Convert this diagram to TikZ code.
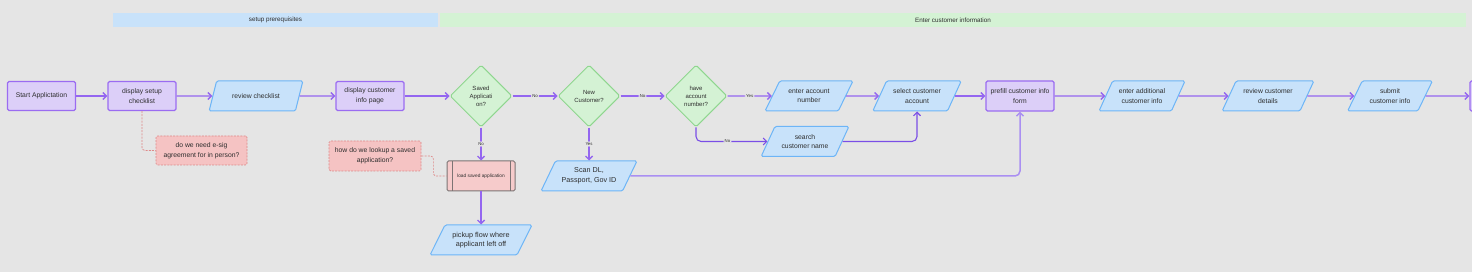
\documentclass[tikz,border=0pt]{standalone}
\usepackage{fontspec}
\setmainfont{Liberation Sans}
\usetikzlibrary{arrows.meta,shapes.geometric}

\definecolor{bg}{HTML}{E5E5E5}
\definecolor{ink}{HTML}{2E2E2E}
\definecolor{procfill}{HTML}{DCCFF8}
\definecolor{procline}{HTML}{9B6CF1}
\definecolor{iofill}{HTML}{C8E2FA}
\definecolor{ioline}{HTML}{6DB5F7}
\definecolor{decfill}{HTML}{D4F2D4}
\definecolor{decline}{HTML}{8FD68F}
\definecolor{notefill}{HTML}{F5C3C3}
\definecolor{noteline}{HTML}{DE8A8A}
\definecolor{loadfill}{HTML}{F6CBCB}
\definecolor{loadline}{HTML}{7C7474}
\definecolor{flowline}{HTML}{9466F0}
\definecolor{darkflow}{HTML}{7A4EE6}
\definecolor{lightflow}{HTML}{AA8FF2}

\begin{document}
\begin{tikzpicture}[x=1pt,y=-1pt,
    font=\fontsize{6.8}{9.6}\selectfont,text=ink,
    >={Straight Barb[length=3.5pt,width=7pt]},
    proc/.style={draw=procline,fill=procfill,line width=1.1pt,rounded corners=1.5pt,
      minimum width=68pt,minimum height=29pt,align=center,inner sep=2pt},
    io/.style={trapezium,trapezium left angle=56,trapezium right angle=124,
      trapezium stretches=true,draw=ioline,fill=iofill,line width=1pt,
      rounded corners=1.5pt,minimum width=#1,minimum height=30pt,align=center,inner sep=1pt},
    io/.default=90pt,
    decision/.style={diamond,aspect=1,draw=decline,fill=decfill,line width=1pt,
      rounded corners=1.5pt,minimum width=62pt,minimum height=62pt,inner sep=0pt,
      align=center,font=\fontsize{6}{8}\selectfont},
    note/.style={draw=noteline,dash pattern=on 2pt off 1.2pt,fill=notefill,line width=0.7pt,
      rounded corners=1.5pt,minimum width=91pt,minimum height=29pt,align=center},
    notelink/.style={draw=noteline,dash pattern=on 2pt off 1.2pt,line width=0.7pt,rounded corners=3pt},
    band/.style={minimum height=14pt,inner sep=0pt,font=\fontsize{6.3}{7}\selectfont},
    flow/.style={->,draw=flowline,line width=1.4pt,rounded corners=5pt},
    lbl/.style={fill=bg,font=\fontsize{4.3}{5}\selectfont,inner sep=1.2pt}]

  \path[use as bounding box,fill=bg] (0,0) rectangle (1472,272);

  % lane headers
  \node[band,fill=iofill,minimum width=325pt] (setupband) at (275.5,20) {setup prerequisites};
  \node[band,fill=decfill,minimum width=1026pt] (infoband) at (953,20) {Enter customer information};

  % main row
  \node[proc] (start) at (41.5,96) {Start Applictation};
  \node[proc] (setup) at (142,96) {display setup\\checklist};
  \node[io=94pt] (review) at (256,96) {review checklist};
  \node[proc] (infopage) at (370,96) {display customer\\info page};
  \node[decision] (saved) at (481,96) {Saved\\Applicati\\on?};
  \node[decision] (newcust) at (589,96) {New\\Customer?};
  \node[decision] (haveacct) at (696,96) {have\\account\\number?};
  \node[io=88pt] (enteracct) at (809,96) {enter account\\number};
  \node[io=89pt] (selacct) at (917,96) {select customer\\account};
  \node[proc,minimum height=30pt] (prefill) at (1020,96) {prefill customer info\\form};
  \node[io=86pt] (additional) at (1142,96) {enter additional\\customer info};
  \node[io=92pt] (reviewdet) at (1268,96) {review customer\\details};
  \node[io=85pt] (submit) at (1390,96) {submit\\customer info};
  \node[proc,minimum height=30pt] (nextstep) at (1504,96) {};

  % branches
  \node[io=88pt] (search) at (805,141.5) {search\\customer name};
  \node[io=96pt,font=\fontsize{7.2}{9.6}\selectfont] (scan) at (589,176) {Scan DL,\\Passport, Gov ID};
  \node[draw=loadline,fill=loadfill,line width=1pt,rounded corners=1.5pt,
    minimum width=68pt,minimum height=30pt,font=\fontsize{4.8}{6}\selectfont,
    path picture={
      \draw[loadline,line width=0.9pt]
        ([xshift=5pt]path picture bounding box.north west) -- ([xshift=5pt]path picture bounding box.south west)
        ([xshift=-5pt]path picture bounding box.north east) -- ([xshift=-5pt]path picture bounding box.south east);
    }] (load) at (481,176) {load saved application};
  \node[io=102pt,font=\fontsize{7.2}{9.6}\selectfont] (pickup) at (481,240) {pickup flow where\\applicant left off};

  % notes
  \node[note] (esig) at (201.5,150.5) {do we need e-sig\\agreement for in person?};
  \node[note,minimum width=92pt,minimum height=30pt] (lookup) at (375,156) {how do we lookup a saved\\application?};

  % connectors
  \draw[flow] (start) -- (setup);
  \draw[flow] (setup) -- (review);
  \draw[flow] (review) -- (infopage);
  \draw[flow] (infopage) -- (saved);
  \draw[flow] (saved) -- node[lbl]{No} (newcust);
  \draw[flow] (newcust) -- node[lbl]{No} (haveacct);
  \draw[flow] (haveacct) -- node[lbl]{Yes} (enteracct);
  \draw[flow] (enteracct) -- (selacct);
  \draw[flow] (selacct) -- (prefill);
  \draw[flow] (prefill) -- (additional);
  \draw[flow] (additional) -- (reviewdet);
  \draw[flow] (reviewdet) -- (submit);
  \draw[flow] (submit) -- (nextstep);
  \draw[flow] (saved) -- node[lbl]{No} (load);
  \draw[flow] (load) -- (pickup);
  \draw[flow] (newcust) -- node[lbl]{Yes} (scan);
  \draw[flow,draw=darkflow,line width=1.1pt] (haveacct.south) |- node[lbl,pos=0.72]{No} (search.west);
  \draw[flow,draw=darkflow,line width=1.1pt] (search.east) -| (selacct.south);
  \draw[flow,draw=lightflow,line width=1.5pt] (scan.east) -| (prefill.south);
  \draw[notelink] (setup.south) |- (esig.west);
  \draw[notelink] (lookup.east) -- ++(12,0) |- (load.west);
\end{tikzpicture}
\end{document}
